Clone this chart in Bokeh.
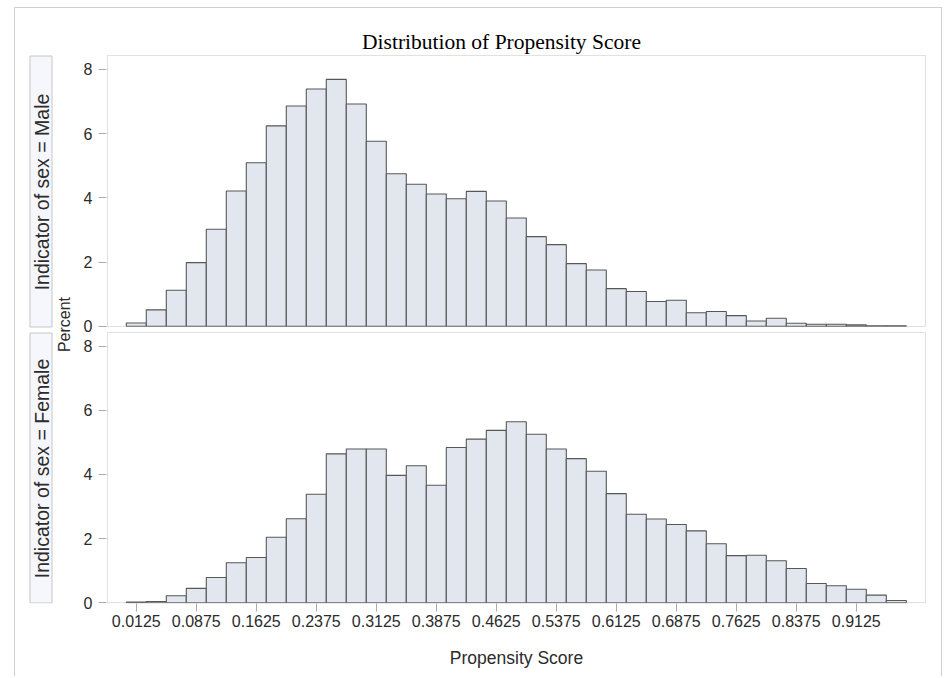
from math import pi
from bokeh.plotting import figure
from bokeh.layouts import column, row
from bokeh.models import (Range1d, LinearAxis, FixedTicker, ColumnDataSource,
                          BoxAnnotation, CustomJSTickFormatter)
from bokeh.core.properties import value
from bokeh.embed import file_html
from bokeh.resources import INLINE

# ---------------- data ----------------
BIN_WIDTH = 0.025
N_BINS = 39
male_pct = [0.10, 0.51, 1.12, 1.98, 3.02, 4.21, 5.09, 6.24, 6.86, 7.39,
            7.69, 6.92, 5.76, 4.75, 4.42, 4.12, 3.97, 4.20, 3.90, 3.37,
            2.79, 2.54, 1.95, 1.75, 1.17, 1.08, 0.77, 0.81, 0.42, 0.46,
            0.33, 0.16, 0.25, 0.09, 0.06, 0.06, 0.04, 0.015, 0.015]
female_pct = [0.02, 0.04, 0.22, 0.45, 0.79, 1.25, 1.41, 2.04, 2.62, 3.38,
              4.64, 4.79, 4.79, 3.97, 4.27, 3.66, 4.84, 5.10, 5.37, 5.64,
              5.25, 4.79, 4.49, 4.10, 3.40, 2.76, 2.61, 2.44, 2.24, 1.84,
              1.47, 1.48, 1.31, 1.07, 0.60, 0.53, 0.42, 0.24, 0.07]
x_ticks = [0.0125, 0.0875, 0.1625, 0.2375, 0.3125, 0.3875, 0.4625,
           0.5375, 0.6125, 0.6875, 0.7625, 0.8375, 0.9125]
x_tick_labels = ["0.0125", "0.0875", "0.1625", "0.2375", "0.3125", "0.3875", "0.4625",
                 "0.5375", "0.6125", "0.6875", "0.7625", "0.8375", "0.9125"]
y_ticks = [0, 2, 4, 6, 8]
title_text = "Distribution of Propensity Score"
strip_labels = ["Indicator of sex = Male", "Indicator of sex = Female"]
x_label = "Propensity Score"
y_label = "Percent"

bin_left = [round(i * BIN_WIDTH, 4) for i in range(N_BINS)]
bin_right = [round((i + 1) * BIN_WIDTH, 4) for i in range(N_BINS)]

# ---------------- layout (page pixels) ----------------
ORG_X, ORG_Y = 15, 8            # inside the 1px outer border at x=14, y=7
RIGHT = 941
BANNER_B = 54
LEFT_B = 75
BOTTOM = 676
FRAME_L, FRAME_R, FRAME_T, FRAME_B = 106, 926, 54, 603
PANEL_L, PANEL_R = 107, 925
TOP_BOX = (55, 326)
BOT_BOX = (332, 602)
X0, X1 = -0.0235, 0.999            # data at PANEL_L / PANEL_R
XPP = (X1 - X0) / (PANEL_R - PANEL_L)
ZERO_B = 602.3                     # baseline of lower panel
ZERO_T = 325.7                     # baseline of upper panel
PX_PER_UNIT = 32.1


def xd(px):
    return X0 + (px - PANEL_L) * XPP


def yd(py):
    return (ZERO_B - py) / PX_PER_UNIT


OFF = yd(ZERO_T)

FILL = "#e1e6ef"
EDGE = "#575757"
FRAME = "#9d9d9d"
TICK = "#aaaaaa"
TEXT = "#2b2b2b"
BORDER = "#cfcfcf"
SANS = "Liberation Sans"


def deco_fig(x0, x1, y0, y1, bottom_border=0):
    f = figure(width=x1 - x0, height=y1 - y0, x_range=Range1d(x0, x1),
               y_range=Range1d(y1 - bottom_border, y0), x_axis_type=None, y_axis_type=None,
               output_backend="svg", toolbar_location=None, min_border=0,
               min_border_bottom=bottom_border)
    f.outline_line_color = None
    f.background_fill_color = "white"
    f.border_fill_color = "white"
    return f


# title banner
tb = deco_fig(ORG_X, RIGHT, ORG_Y, BANNER_B)
tb.text(x=[501], y=[41.5], text=[title_text], text_align="center",
        text_baseline="alphabetic", text_font=value("Liberation Serif"),
        text_font_size="21.5px", text_color="black")

# strip column
lf = deco_fig(ORG_X, LEFT_B, BANNER_B, BOTTOM, bottom_border=BOTTOM - FRAME_B)
for (t, b), txt in zip([TOP_BOX, BOT_BOX], strip_labels):
    lf.quad(left=[29.5], right=[51.5], top=[t + 0.5], bottom=[b + 0.5],
            fill_color="#f6f7fc", line_color="#c6c6c6", line_width=1)
    lf.text(x=[41], y=[(t + b) / 2 + 1], text=[txt], angle=pi / 2,
            text_align="center", text_baseline="middle",
            text_font=value(SANS), text_font_size="19.5px", text_color=TEXT)
lf.text(x=[64], y=[324], text=[y_label], angle=pi / 2,
        text_align="center", text_baseline="middle",
        text_font=value(SANS), text_font_size="16px", text_color=TEXT)

# both panels in one plot; the upper panel uses its own y range
p = figure(width=RIGHT - LEFT_B, height=BOTTOM - BANNER_B,
           x_range=Range1d(xd(FRAME_L), xd(FRAME_R)),
           y_range=Range1d(yd(FRAME_B), yd(FRAME_T)),
           x_axis_type=None, y_axis_type=None,
           output_backend="svg", toolbar_location=None,
           min_border_left=FRAME_L - LEFT_B, min_border_right=RIGHT - FRAME_R,
           min_border_top=FRAME_T - BANNER_B, min_border_bottom=BOTTOM - FRAME_B)
p.extra_y_ranges = {"upper": Range1d(yd(FRAME_B) - OFF, yd(FRAME_T) - OFF)}
p.outline_line_color = None
p.background_fill_color = "white"
p.border_fill_color = "white"

src_m = ColumnDataSource(dict(left=bin_left, right=bin_right, top=male_pct))
src_f = ColumnDataSource(dict(left=bin_left, right=bin_right, top=female_pct))
p.quad(left="left", right="right", bottom=0, top="top", source=src_m,
       y_range_name="upper", fill_color=FILL, line_color=EDGE, line_width=1.1)
p.quad(left="left", right="right", bottom=0, top="top", source=src_f,
       fill_color=FILL, line_color=EDGE, line_width=1.1)

for (t, b) in [TOP_BOX, BOT_BOX]:
    p.add_layout(BoxAnnotation(left=X0, right=X1, bottom=yd(b), top=yd(t),
                               fill_color=None, line_color=FRAME, line_width=1))

xa = LinearAxis(ticker=FixedTicker(ticks=x_ticks),
                major_label_overrides={t: s for t, s in zip(x_ticks, x_tick_labels)},
                axis_label=x_label)
xa.axis_line_color = None
xa.major_tick_line_color = TICK
xa.major_tick_out = 8
xa.major_tick_in = 0
xa.minor_tick_line_color = None
xa.major_label_standoff = 3
xa.major_label_text_font = SANS
xa.major_label_text_font_size = "16px"
xa.major_label_text_color = TEXT
xa.axis_label_text_font = SANS
xa.axis_label_text_font_size = "17.5px"
xa.axis_label_text_font_style = "normal"
xa.axis_label_text_color = TEXT
xa.axis_label_standoff = 18
p.add_layout(xa, "below")

ya = LinearAxis(ticker=FixedTicker(ticks=y_ticks + [OFF + t for t in y_ticks]),
                formatter=CustomJSTickFormatter(args=dict(off=OFF), code="""
                    const v = tick >= off - 1e-6 ? tick - off : tick;
                    return Math.round(v).toString();
                """))
ya.axis_line_color = None
ya.major_tick_line_color = TICK
ya.major_tick_out = 8
ya.major_tick_in = 0
ya.minor_tick_line_color = None
ya.major_label_standoff = 6
ya.major_label_text_font = SANS
ya.major_label_text_font_size = "16px"
ya.major_label_text_color = TEXT
p.add_layout(ya, "left")

layout = column(tb, row(lf, p, spacing=0), spacing=0,
                margin=(7, 0, 0, 14),
                styles={"border-top": f"1px solid {BORDER}",
                        "border-left": f"1px solid {BORDER}",
                        "border-right": f"1px solid {BORDER}"})

open("out.html", "w").write(file_html(layout, INLINE))
